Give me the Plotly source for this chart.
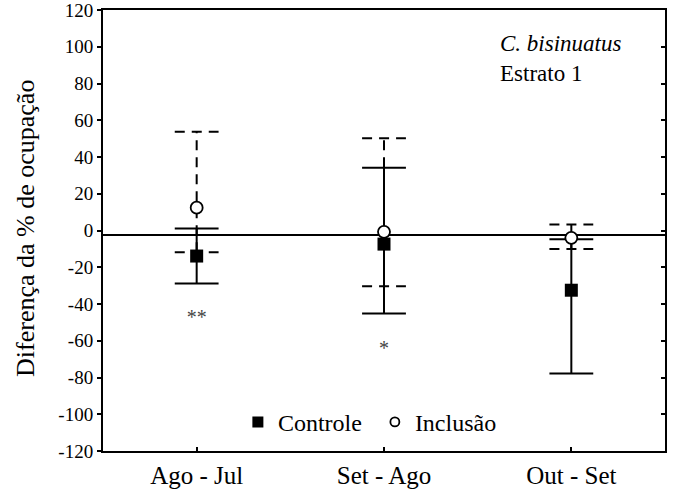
import plotly.graph_objects as go

# ---- data ----
categories = ["Ago - Jul", "Set - Ago", "Out - Set"]
ctrl_mean = [-13.9, -7.4, -32.5]
ctrl_low = [-28.8, -45.2, -77.8]
ctrl_high = [1.1, 34.2, -4.8]
incl_mean = [12.4, -0.7, -4.0]
incl_low = [-11.9, -30.3, -10.0]
incl_high = [53.8, 50.2, 3.3]
ref_line = -2.5
sig_labels = ["**", "*"]
sig_x = [0, 1]
sig_y = [-48.0, -65.0]
y_ticks = list(range(-120, 121, 20))
y_ticktext = [str(v) for v in y_ticks]

FONT = "Liberation Serif"
CAP = 0.117  # half width of error caps (x units)
X_RANGE = [-0.5, 2.5]
LINE_OVERHANG = 0.033  # reference line pokes slightly past the left axis

def bar_path(lows, highs):
    xs, ys = [], []
    for i, (lo, hi) in enumerate(zip(lows, highs)):
        xs += [i, i, None, i - CAP, i + CAP, None, i - CAP, i + CAP, None]
        ys += [lo, hi, None, lo, lo, None, hi, hi, None]
    return xs, ys

xpos = list(range(len(categories)))
fig = go.Figure()

# reference line
fig.add_trace(go.Scatter(x=[X_RANGE[0] - LINE_OVERHANG, X_RANGE[1]], y=[ref_line, ref_line],
                         mode="lines", line=dict(color="black", width=2), showlegend=False,
                         hoverinfo="skip", cliponaxis=False))

# Controle error bars (solid)
cx, cy = bar_path(ctrl_low, ctrl_high)
fig.add_trace(go.Scatter(x=cx, y=cy, mode="lines", line=dict(color="black", width=2),
                         showlegend=False, hoverinfo="skip"))
# Inclusão error bars (dashed)
ix, iy = bar_path(incl_low, incl_high)
fig.add_trace(go.Scatter(x=ix, y=iy, mode="lines",
                         line=dict(color="black", width=2, dash="10px,7px"),
                         showlegend=False, hoverinfo="skip"))

# markers
fig.add_trace(go.Scatter(x=xpos, y=ctrl_mean, mode="markers", name="Controle",
                         marker=dict(symbol="square", size=13, color="black"),
                         showlegend=False))
fig.add_trace(go.Scatter(x=xpos, y=incl_mean, mode="markers", name="Inclusão",
                         marker=dict(symbol="circle", size=12, color="white",
                                     line=dict(color="black", width=1.8)),
                         showlegend=False))

# legend entries
fig.add_trace(go.Scatter(x=[None], y=[None], mode="markers", name="Controle",
                         marker=dict(symbol="square", size=11, color="black")))
fig.add_trace(go.Scatter(x=[None], y=[None], mode="markers", name="Inclusão",
                         marker=dict(symbol="circle", size=9, color="white",
                                     line=dict(color="black", width=1.8))))

# significance marks
fig.add_trace(go.Scatter(x=sig_x, y=sig_y, mode="text", text=sig_labels,
                         textfont=dict(family=FONT, size=20, color="#444444"),
                         showlegend=False, hoverinfo="skip"))

# invisible trace for the right-side axis
fig.add_trace(go.Scatter(x=[None], y=[None], yaxis="y2", showlegend=False,
                         hoverinfo="skip"))

fig.update_layout(
    width=676, height=495,
    margin=dict(l=103, r=11, t=10, b=44, autoexpand=False),
    paper_bgcolor="white", plot_bgcolor="white",
    font=dict(family=FONT, color="black"),
    xaxis=dict(range=X_RANGE, tickvals=xpos, ticktext=categories,
               ticks="inside", ticklen=4, tickwidth=1.5, tickcolor="black",
               ticklabelstandoff=1, automargin=False,
               showline=True, linewidth=2, linecolor="black", mirror=True,
               showgrid=False, zeroline=False,
               tickfont=dict(family=FONT, size=25, color="black")),
    yaxis=dict(range=[-120, 120], tickvals=y_ticks, ticktext=y_ticktext,
               ticks="outside", ticklen=4, tickwidth=1.5, tickcolor="black",
               automargin=False, ticklabeloverflow="allow",
               showline=True, linewidth=2, linecolor="black", mirror=True,
               showgrid=False, zeroline=False,
               tickfont=dict(family=FONT, size=19, color="black")),
    yaxis2=dict(range=[-120, 120], tickvals=y_ticks, overlaying="y", side="right",
                ticks="inside", ticklen=4, tickwidth=1.5, tickcolor="black",
                automargin=False,
                showticklabels=False, showline=False, showgrid=False, zeroline=False),
    legend=dict(orientation="h", x=0.24, y=0.065, xanchor="left", yanchor="middle",
                entrywidth=92, entrywidthmode="pixels",
                bgcolor="rgba(0,0,0,0)", font=dict(family=FONT, size=24, color="black")),
    annotations=[
        dict(text="Diferença da % de ocupação", xref="paper", yref="paper",
             x=-0.1376, y=0.505, xanchor="center", yanchor="middle", textangle=-90,
             showarrow=False, font=dict(family=FONT, size=26, color="black")),
        dict(text="<i>C. bisinuatus</i><br>Estrato 1", xref="paper", yref="paper",
             x=0.7027, y=0.957, xanchor="left", yanchor="top", align="left",
             showarrow=False, font=dict(family=FONT, size=23, color="black")),
    ],
    showlegend=True,
)

fig.write_html("out.html")
